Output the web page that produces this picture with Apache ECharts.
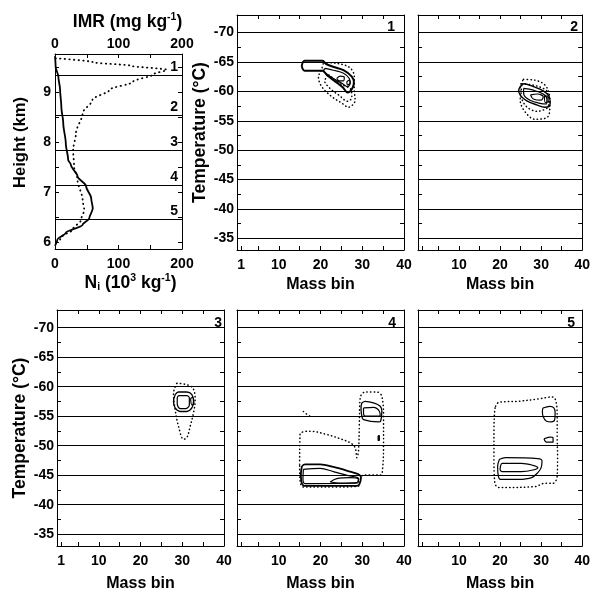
<!DOCTYPE html>
<html><head><meta charset="utf-8">
<script src="https://cdn.jsdelivr.net/npm/echarts@6/dist/echarts.min.js"></script>
<style>html,body{margin:0;padding:0;background:#fff}#c{width:593px;height:593px}</style>
</head><body><div id="c"></div>
<script>
// ---------- profile panel (Ni solid, IMR dotted) : [value, height km]
const niProfile = [[0,9.72],[1,9.51],[5.3,9.31],[8,9.05],[10,8.71],[13,8.38],[17,7.98],[20.7,7.65],[25,7.55],[35.5,7.32],[49,7.12],[57,6.88],[59.5,6.68],[54,6.48],[43.5,6.35],[17,6.19],[3.7,6.05],[0,5.93]];
const imrProfile = [[1,9.68],[60,9.6],[120,9.53],[176,9.45],[155,9.36],[123,9.21],[86,9.05],[59,8.85],[43.5,8.58],[33,8.18],[28.6,7.85],[30,7.52],[35.5,7.25],[43.5,6.85],[46,6.65],[41,6.45],[27.6,6.25],[11.7,6.12],[1,5.99]];
const layerHeights = [9.34, 8.54, 7.85, 7.15, 6.46];
const layerNames = ['1','2','3','4','5'];
const heightLabels = [6,7,8,9];
const heightTicks = [6,6.5,7,7.5,8,8.5,9,9.5];
const profLabels = [0,100,200];
const profTicks = [50,100,150];
// ---------- panel axes
const tempLines = [-70,-65,-60,-55,-50,-45,-40,-35];
const tempTicks = [-67.5,-62.5,-57.5,-52.5,-47.5,-42.5,-37.5];
const massLabelsLeft = [1,10,20,30,40];
const massLabels = [10,20,30,40];
const massTicks = [1,5,10,15,20,25,30,35];
const massTopTicks = [5,10,15,20,25,30,35];
const panelNames = ['1','2','3','4','5'];
// ---------- contours [mass bin, temperature]
const p1SolidOuter = [[15.5,-64.3],[16.2,-65.2],[20.5,-65.2],[21.3,-64.7],[23,-64.2],[25.5,-63.6],[27.5,-62.5],[28,-61.5],[27.6,-60.5],[26.5,-59.8],[25.3,-60.7],[23.5,-61.7],[21.5,-62.8],[20.5,-63.5],[16.2,-63.5],[15.5,-64.3]];
const p1SolidMid = [[21.1,-63.9],[23.1,-63.6],[25.5,-63.1],[26.9,-62.2],[27.1,-61.4],[26.5,-60.8],[25.1,-61.4],[23.1,-62.2],[21.5,-62.95],[20.7,-63.5],[21.1,-63.9]];
const p1SolidInner = [[23.9,-62.2],[24.7,-62.6],[25.7,-62.4],[25.5,-61.8],[24.5,-61.8],[23.9,-62.2]];
const p1SolidHook = [[26.3,-61.65],[26.9,-61.9],[27.1,-61.4],[26.5,-61.1],[26.3,-61.65]];
const p1DotOuter = [[20.7,-64.9],[23.5,-64.8],[26.9,-64.1],[28.1,-62.5],[28.1,-60.2],[28.3,-58.5],[26.7,-57.3],[25.1,-58.0],[22.7,-59.1],[20.3,-60.8],[19.5,-62.5],[20.2,-63.6],[20.7,-64.9]];
const p1DotInner = [[22,-62.8],[25,-61.2],[27.3,-60.3],[27.5,-59],[26.5,-58.3],[24.5,-59.3],[22.3,-60.5],[21,-61.8],[22,-62.8]];
const p2SolidOuter = [[24.9,-60.8],[25.8,-61.3],[28.1,-60.8],[30.5,-60.1],[31.9,-59.2],[32.2,-58.2],[31.9,-57.4],[30.9,-57.3],[28.9,-57.7],[26.5,-58.4],[25.1,-59.2],[24.5,-60.1],[24.9,-60.8]];
const p2SolidMid = [[25.7,-60.5],[28.1,-60.2],[30.5,-59.55],[31.4,-58.65],[31.3,-57.85],[29.7,-57.97],[27.3,-58.5],[25.8,-59.4],[25.7,-60.5]];
const p2SolidInner = [[27.4,-59.4],[29.1,-59.55],[30.5,-59.1],[30.0,-58.5],[28.2,-58.65],[27.4,-59.4]];
const p2SolidSmall = [[30.8,-59.2],[31.6,-59.2],[31.7,-58.3],[31.0,-58.1],[30.8,-59.2]];
const p2DotOuter = [[25.7,-62.05],[28.5,-61.9],[30.9,-61.1],[32.0,-59.4],[32.1,-57.4],[31.5,-55.6],[28.5,-55.25],[26.1,-56.5],[24.9,-58.5],[24.9,-60.8],[25.7,-62.05]];
const p2DotInner = [[25.3,-61.3],[29,-60.9],[31.6,-59.8],[31.8,-57.6],[29,-56.6],[26.3,-57.5],[25.1,-59.5],[25.3,-61.3]];
const p3SolidOuter = [[28.3,-58.65],[29.1,-59.1],[31.1,-59.1],[32.3,-58.65],[32.7,-57.5],[32.3,-56.4],[31.1,-55.8],[29.5,-55.8],[28.3,-56.4],[27.9,-57.5],[28.3,-58.65]];
const p3SolidInner = [[29.1,-58.5],[31.1,-58.5],[31.7,-58.1],[31.7,-56.95],[30.9,-56.3],[29.5,-56.3],[28.8,-57.1],[28.8,-58.1],[29.1,-58.5]];
const p3SolidSmall = [[32.0,-58.0],[32.5,-58.2],[32.8,-57.2],[32.3,-56.9],[32.0,-58.0]];
const p3DotOuter = [[28.7,-60.6],[32.3,-59.95],[33.1,-57.8],[32.7,-55.6],[31.9,-53.3],[31.1,-51.35],[30.3,-51.1],[29.1,-53.3],[28.3,-56.1],[27.9,-58.9],[28.7,-60.6]];
const p4DotOuter = [[15.0,-46.84],[15.1,-51.9],[17.5,-52.46],[21.5,-51.9],[24.7,-51.18],[27.1,-50.5],[28.3,-49.66],[28.7,-47.97],[29.1,-49.1],[29.3,-53.6],[29.5,-58.1],[30.7,-59.1],[33.5,-59.1],[34.7,-58.37],[35.1,-54.7],[35.1,-50.2],[34.9,-46.3],[34.4,-45.03],[32.3,-45.03],[30.3,-45.03],[29.5,-44.3],[29.1,-43.18],[24.7,-43.0],[15.9,-43.0],[15.1,-44.0],[15.0,-46.84]];
const p4DotBit = [[15.9,-55.8],[16.6,-55.4],[17.4,-55.0],[17.0,-54.6]];
const p4SolidUpOuter = [[29.9,-57.25],[30.7,-57.52],[32.7,-57.25],[34.3,-56.68],[34.7,-55.84],[34.4,-54.15],[33.9,-54.04],[30.3,-54.43],[29.9,-55.0],[29.7,-56.4],[29.9,-57.25]];
const p4SolidUpInner = [[30.3,-56.4],[32.7,-56.5],[34.1,-55.84],[34.3,-55.0],[30.7,-55.0],[30.3,-55.6],[30.3,-56.4]];
const p4SolidBit = [[33.8,-51.7],[34.1,-51.7],[34.1,-50.9],[33.8,-50.9],[33.8,-51.7]];
const p4SolidLowOuter = [[15.55,-46.55],[16.3,-46.84],[19.9,-46.84],[23.1,-46.39],[27.1,-45.6],[29.1,-45.15],[29.7,-44.6],[29.3,-43.46],[28.7,-43.18],[16.3,-43.18],[15.55,-43.6],[15.3,-45.15],[15.55,-46.55]];
const p4SolidLowMid = [[15.9,-46.0],[19.9,-46.16],[23.1,-45.6],[27.1,-44.86],[29.1,-44.43],[28.9,-43.68],[16.3,-43.58],[15.8,-44.3],[15.9,-46.0]];
const p4SolidLowInner = [[22.3,-43.85],[23.9,-44.43],[27.1,-44.6],[29.1,-44.3],[28.7,-43.75],[24.7,-43.68],[22.3,-43.85]];
const p5DotOuter = [[18.9,-56.68],[19.7,-57.36],[24.5,-57.53],[29.3,-57.93],[32.8,-58.27],[33.6,-57.53],[33.9,-55.0],[33.9,-51.6],[34.0,-48.24],[33.9,-44.86],[32.9,-43.63],[30.9,-43.63],[28.5,-43.07],[19.7,-42.9],[18.7,-43.75],[18.5,-48.24],[18.5,-52.75],[18.7,-56.1],[18.9,-56.68]];
const p5SolidUp = [[30.45,-56.4],[32.1,-56.68],[33.1,-56.4],[33.4,-55.56],[33.3,-54.43],[32.5,-54.04],[31.3,-54.15],[30.45,-55.0],[30.3,-55.84],[30.45,-56.4]];
const p5SolidSmall = [[30.7,-51.18],[32.1,-51.45],[32.9,-51.35],[32.9,-50.6],[31.3,-50.6],[30.7,-51.18]];
const p5SolidLowOuter = [[19.85,-47.7],[21.3,-47.97],[29.2,-47.8],[30.2,-47.4],[30.0,-46.28],[29.2,-45.44],[27.7,-44.6],[24.5,-44.3],[20.1,-44.3],[19.5,-45.15],[19.4,-46.55],[19.85,-47.7]];
const p5SolidLowInner = [[20.1,-46.55],[20.5,-47.0],[25.2,-47.0],[28.0,-46.67],[29.2,-46.28],[28.0,-45.88],[25.2,-45.6],[20.5,-45.6],[20.0,-46.0],[20.1,-46.55]];

const contours = [
  {d:p1SolidOuter,g:1,dot:false,w:2},{d:p1SolidMid,g:1,dot:false,w:1.2},{d:p1SolidInner,g:1,dot:false,w:1.2},{d:p1SolidHook,g:1,dot:false,w:1.2},
  {d:p1DotOuter,g:1,dot:true},{d:p1DotInner,g:1,dot:true},
  {d:p2SolidOuter,g:2,dot:false,w:1.4},{d:p2SolidMid,g:2,dot:false,w:1.2},{d:p2SolidInner,g:2,dot:false,w:1.2},{d:p2SolidSmall,g:2,dot:false,w:1.2},
  {d:p2DotOuter,g:2,dot:true},{d:p2DotInner,g:2,dot:true},
  {d:p3SolidOuter,g:3,dot:false,w:1.3},{d:p3SolidInner,g:3,dot:false,w:1.2},{d:p3SolidSmall,g:3,dot:false,w:1.2},{d:p3DotOuter,g:3,dot:true},
  {d:p4DotOuter,g:4,dot:true},{d:p4DotBit,g:4,dot:true},
  {d:p4SolidUpOuter,g:4,dot:false,w:1.3},{d:p4SolidUpInner,g:4,dot:false,w:1.2},{d:p4SolidBit,g:4,dot:false,w:1.2},
  {d:p4SolidLowOuter,g:4,dot:false,w:1.8},{d:p4SolidLowMid,g:4,dot:false,w:1.2},{d:p4SolidLowInner,g:4,dot:false,w:1.2},
  {d:p5DotOuter,g:5,dot:true},{d:p5SolidUp,g:5,dot:false,w:1.2},{d:p5SolidSmall,g:5,dot:false,w:1.2},
  {d:p5SolidLowOuter,g:5,dot:false,w:1.2},{d:p5SolidLowInner,g:5,dot:false,w:1.2}
];

const FONT = '"Liberation Sans", Arial, Helvetica, sans-serif';
const txt = {color:'#000', fontFamily:FONT, fontWeight:'bold'};
const black = {color:'#000', width:1};
const dotStyle = {color:'#000', width:1.5, type:[0.4,3.3], cap:'round'};
const grids = [
  {left:55, top:54, width:127, height:195},
  {left:237, top:15, width:167, height:235},
  {left:418, top:15, width:167, height:235},
  {left:57, top:310, width:167, height:237},
  {left:237, top:310, width:167, height:237},
  {left:418, top:310, width:167, height:237}
];
const xAxes = [], yAxes = [];
const rich = {
  a:{...txt, fontSize:17.5, lineHeight:20},
  s:{...txt, fontSize:10.5, lineHeight:9, verticalAlign:'top'},
  i:{...txt, fontSize:10.5, lineHeight:9, verticalAlign:'bottom'}
};
// profile panel axes
xAxes.push({gridIndex:0, type:'value', min:0, max:200, position:'bottom',
  axisLine:{show:true, onZero:false, lineStyle:black},
  axisTick:{show:true, inside:true, length:4, lineStyle:black, customValues:profTicks},
  axisLabel:{...txt, fontSize:14, margin:8, customValues:profLabels},
  splitLine:{show:false},
  name:'{a|N}{i|i}{a| (10}{s|3}{a| kg}{s|-1}{a|)}', nameLocation:'middle', nameGap:24,
  nameTextStyle:{rich, padding:[0,0,0,24]}});
xAxes.push({gridIndex:0, type:'value', min:0, max:200, position:'top',
  axisLine:{show:true, onZero:false, lineStyle:black},
  axisTick:{show:true, inside:true, length:4, lineStyle:black, customValues:profTicks},
  axisLabel:{...txt, fontSize:14, margin:3, customValues:profLabels},
  splitLine:{show:false},
  name:'{a|IMR (mg kg}{s|-1}{a|)}', nameLocation:'middle', nameGap:22,
  nameTextStyle:{rich, padding:[0,0,0,18]}});
yAxes.push({gridIndex:0, type:'value', min:5.867, max:9.765, position:'left',
  axisLine:{show:true, onZero:false, lineStyle:black},
  axisTick:{show:true, inside:true, length:4, lineStyle:black, customValues:heightTicks},
  axisLabel:{...txt, fontSize:14, margin:4, customValues:heightLabels},
  splitLine:{show:false},
  name:'Height (km)', nameLocation:'middle', nameGap:26,
  nameTextStyle:{...txt, fontSize:16.5, padding:[0,0,0,18]}});
yAxes.push({gridIndex:0, type:'value', min:5.867, max:9.765, position:'right',
  axisLine:{show:true, onZero:false, lineStyle:black},
  axisTick:{show:true, inside:true, length:4, lineStyle:black, customValues:heightTicks},
  axisLabel:{show:false}, splitLine:{show:false}});
// contour panels
for (let g = 1; g <= 5; g++) {
  const leftCol = (g === 1 || g === 3);
  const topRow = (g <= 2);
  xAxes.push({gridIndex:g, type:'value', min:0, max:40, position:'bottom',
    axisLine:{show:true, onZero:false, lineStyle:black},
    axisTick:{show:true, inside:true, length:4, lineStyle:black, customValues:massTicks},
    axisLabel:{...txt, fontSize:14, margin:8, customValues: leftCol ? massLabelsLeft : massLabels},
    splitLine:{show:false},
    name:'Mass bin', nameLocation:'middle', nameGap: topRow ? 27 : 30, nameTextStyle:{...txt, fontSize:16}});
  xAxes.push({gridIndex:g, type:'value', min:0, max:40, position:'top',
    axisLine:{show:true, onZero:false, lineStyle:black},
    axisTick:{show:true, inside:true, length:4, lineStyle:black, customValues:massTopTicks},
    axisLabel:{show:false}, splitLine:{show:false}});
  const yl = {gridIndex:g, type:'value', min:-73, max:-33, inverse:true, position:'left',
    axisLine:{show:true, onZero:false, lineStyle:black},
    axisTick:{show:true, inside:true, length:4, lineStyle:black, customValues:tempTicks},
    axisLabel: leftCol ? {...txt, fontSize:14, margin:3, customValues:tempLines} : {show:false},
    splitLine:{show:false}};
  if (leftCol) { yl.name = 'Temperature (°C)'; yl.nameLocation='middle'; yl.nameGap = 28; yl.nameTextStyle = {...txt, fontSize:17.5}; }
  yAxes.push(yl);
  yAxes.push({gridIndex:g, type:'value', min:-73, max:-33, inverse:true, position:'right',
    axisLine:{show:true, onZero:false, lineStyle:black},
    axisTick:{show:true, inside:true, length:4, lineStyle:black, customValues:tempTicks},
    axisLabel:{show:false}, splitLine:{show:false}});
}

const series = [];
series.push({type:'line', xAxisIndex:0, yAxisIndex:0, data:niProfile, showSymbol:false, smooth:0.3, smoothMonotone:'y',
  lineStyle:{color:'#000', width:1.8}, silent:true,
  markLine:{silent:true, symbol:['none','none'], animation:false,
    lineStyle:{color:'#000', type:'solid', width:1},
    label:{show:true, position:'insideEndTop', distance:[4,1], ...txt, fontSize:14},
    data: layerHeights.map((h,k)=>({yAxis:h, label:{formatter:layerNames[k]}}))}});
series.push({type:'line', xAxisIndex:1, yAxisIndex:0, data:imrProfile, showSymbol:false, smooth:0.3, smoothMonotone:'y',
  lineStyle:{color:'#000', width:1.8, type:[0.4,4.2], cap:'round'}, silent:true});
for (let g = 1; g <= 5; g++) {
  series.push({type:'line', xAxisIndex:2*g, yAxisIndex:2*g, data:[], silent:true,
    markLine:{silent:true, symbol:['none','none'], animation:false,
      lineStyle:{color:'#000', type:'solid', width:1}, label:{show:false},
      data: tempLines.map(t=>({yAxis:t}))}});
}
contours.forEach(c => {
  series.push({type:'line', xAxisIndex:2*c.g, yAxisIndex:2*c.g, data:c.d, showSymbol:false, smooth:0.35, silent:true,
    lineStyle: c.dot ? dotStyle : {color:'#000', width:c.w}});
});

const titlePos = [{right:198, top:20},{right:15, top:20},{right:371, top:316},{right:197, top:316},{right:18, top:316}];
const titles = panelNames.map((n,k)=>({text:n, right:titlePos[k].right, top:titlePos[k].top, padding:0,
  textStyle:{...txt, fontSize:14}}));

const chart = echarts.init(document.getElementById('c'), null, {renderer:'canvas'});
chart.setOption({animation:false, backgroundColor:'#fff', title:titles, grid:grids, xAxis:xAxes, yAxis:yAxes, series});
</script></body></html>
